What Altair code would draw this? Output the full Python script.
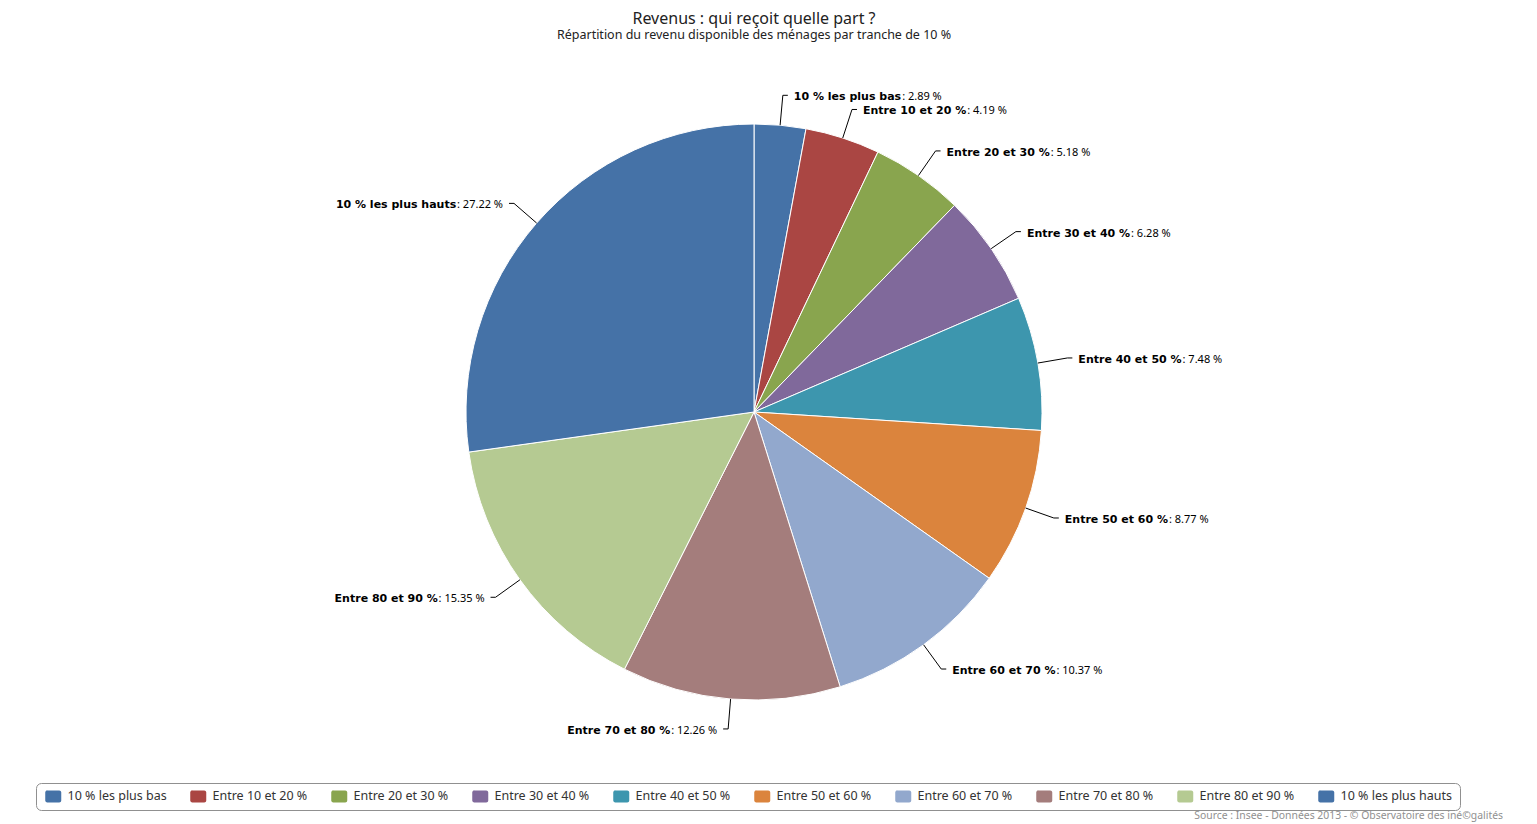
import altair as alt
import pandas as pd

categories = ["10 % les plus bas", "Entre 10 et 20 %", "Entre 20 et 30 %", "Entre 30 et 40 %",
              "Entre 40 et 50 %", "Entre 50 et 60 %", "Entre 60 et 70 %", "Entre 70 et 80 %",
              "Entre 80 et 90 %", "10 % les plus hauts"]
shares = [2.89, 4.19, 5.18, 6.28, 7.48, 8.77, 10.37, 12.26, 15.35, 27.22]
colors = ["#4572A7", "#AA4643", "#89A54E", "#80699B", "#3D96AE",
          "#DB843D", "#92A8CD", "#A47D7C", "#B5CA92", "#4572A7"]

TITLE = "Revenus : qui reçoit quelle part ?"
SUBTITLE = "Répartition du revenu disponible des ménages par tranche de 10 %"
CREDITS = "Source : Insee - Données 2013 - © Observatoire des iné©galités"

# layout
W, H = 1492, 738
Y0 = 43          # page offset of the plot area (8px margin + title block)
R = 288
DIST = 30
LBL = 11

# approximate font metrics (em fractions) used to chain bold name + regular value
BOLD_EM = {" ": 713, "%": 2052, "E": 1399, "a": 1382, "b": 1466, "e": 1389, "h": 1458,
           "l": 702, "n": 1458, "p": 1466, "r": 1010, "s": 1219, "t": 979, "u": 1458}
BOLD_EM = {k: v / 2048 for k, v in BOLD_EM.items()}
for d in "0123456789":
    BOLD_EM[d] = 1425 / 2048
REG_EM = {" ": 0.26, ":": 0.268, ".": 0.268, "%": 0.817}
for d in "0123456789":
    REG_EM[d] = 0.572


def text_w(s, table, size):
    return sum(table.get(c, 0.6) for c in s) * size


df = pd.DataFrame({"idx": list(range(len(categories))), "name": categories, "value": shares})
df["val_txt"] = [f": {v:.2f} %" for v in shares]
df["name_w"] = [text_w(n, BOLD_EM, LBL) for n in categories]
df["val_w"] = [text_w(t, REG_EM, LBL) for t in df["val_txt"]]

xs = alt.Scale(domain=[-W / 2, W / 2], nice=False, zero=False)
ys = alt.Scale(domain=[-H / 2, H / 2], nice=False, zero=False)

geo = (
    alt.Chart(df)
    .transform_joinaggregate(total="sum(value)")
    .transform_window(cum="sum(value)", sort=[alt.SortField("idx")], frame=[None, 0])
    .transform_calculate(mid="2*PI*(datum.cum - datum.value/2)/datum.total")
    .transform_calculate(
        xe=f"{R}*sin(datum.mid)", ye=f"{R}*cos(datum.mid)",
        xl=f"{R + DIST}*sin(datum.mid)", yl=f"{R + DIST}*cos(datum.mid)",
        side="sin(datum.mid) >= 0 ? 1 : -1",
    )
    .transform_calculate(xh="datum.xl + 5*datum.side", xt="datum.xl + 11*datum.side")
    .transform_calculate(
        name_x="datum.side > 0 ? datum.xt : datum.xt - datum.val_w - 1",
        val_x="datum.side > 0 ? datum.xt + datum.name_w + 1 : datum.xt",
    )
)

# 16x12 rounded rectangle, drawn in a 12px nominal symbol box (unit = 6px)
legend_path = ("M-0.333,-1H1.667A0.333,0.333 0 0 1 2,-0.667V0.667A0.333,0.333 0 0 1 1.667,1"
               "H-0.333A0.333,0.333 0 0 1 -0.667,0.667V-0.667A0.333,0.333 0 0 1 -0.333,-1Z")

pie = alt.Chart(df).mark_arc(radius=R, stroke="white", strokeWidth=1).encode(
    theta=alt.Theta("value:Q", stack=True),
    order=alt.Order("idx:Q"),
    color=alt.Color(
        "name:N",
        scale=alt.Scale(domain=categories, range=colors),
        legend=alt.Legend(
            title=None, orient="none", legendX=28, legendY=783 - Y0, direction="horizontal",
            columns=10, symbolType=legend_path, symbolSize=144, symbolStrokeWidth=0,
            symbolOpacity=1, labelFont="Noto Sans", labelFontSize=12.5, labelColor="#333333",
            labelOffset=12, columnPadding=21, padding=7, strokeColor="#909090",
            cornerRadius=5, fillColor="white", labelLimit=300,
        ),
    ),
)

radial = geo.mark_rule(color="#000000", strokeWidth=1).encode(
    x=alt.X("xe:Q", scale=xs, axis=None), y=alt.Y("ye:Q", scale=ys, axis=None),
    x2="xl:Q", y2="yl:Q",
)
horiz = geo.mark_rule(color="#000000", strokeWidth=1).encode(
    x=alt.X("xl:Q", scale=xs, axis=None), x2="xh:Q", y=alt.Y("yl:Q", scale=ys, axis=None),
)

name_style = dict(baseline="middle", font="DejaVu Sans", fontWeight="bold", fontSize=LBL,
                  color="#000000", dy=2)
val_style = dict(baseline="middle", font="Noto Sans", fontSize=LBL, color="#000000", dy=2)

names_r = geo.transform_filter("datum.side > 0").mark_text(align="left", **name_style).encode(
    x=alt.X("name_x:Q", scale=xs, axis=None), y=alt.Y("yl:Q", scale=ys, axis=None), text="name:N")
names_l = geo.transform_filter("datum.side < 0").mark_text(align="right", **name_style).encode(
    x=alt.X("name_x:Q", scale=xs, axis=None), y=alt.Y("yl:Q", scale=ys, axis=None), text="name:N")
vals_r = geo.transform_filter("datum.side > 0").mark_text(align="left", **val_style).encode(
    x=alt.X("val_x:Q", scale=xs, axis=None), y=alt.Y("yl:Q", scale=ys, axis=None), text="val_txt:N")
vals_l = geo.transform_filter("datum.side < 0").mark_text(align="right", **val_style).encode(
    x=alt.X("val_x:Q", scale=xs, axis=None), y=alt.Y("yl:Q", scale=ys, axis=None), text="val_txt:N")

credits = alt.Chart(pd.DataFrame({"t": [CREDITS]})).mark_text(
    align="right", baseline="middle", font="Noto Sans", fontSize=10.4, color="#909090"
).encode(x=alt.value(1495), y=alt.value(816 - Y0), text="t:N")

chart = (
    alt.layer(pie, radial, horiz, names_r, names_l, vals_r, vals_l, credits)
    .properties(
        width=W, height=H, padding={"top": 3, "left": 0, "right": 0, "bottom": 0},
        title=alt.TitleParams(
            text=TITLE, subtitle=SUBTITLE, anchor="middle", font="Noto Sans", fontSize=16,
            fontWeight="normal", color="#222222", subtitleFont="Noto Sans", subtitleFontSize=12.5,
            subtitleColor="#222222", subtitlePadding=2, offset=1.5,
        ),
    )
    .configure_view(stroke=None)
)

chart.save("out.html", embed_options={"renderer": "svg", "actions": False})
